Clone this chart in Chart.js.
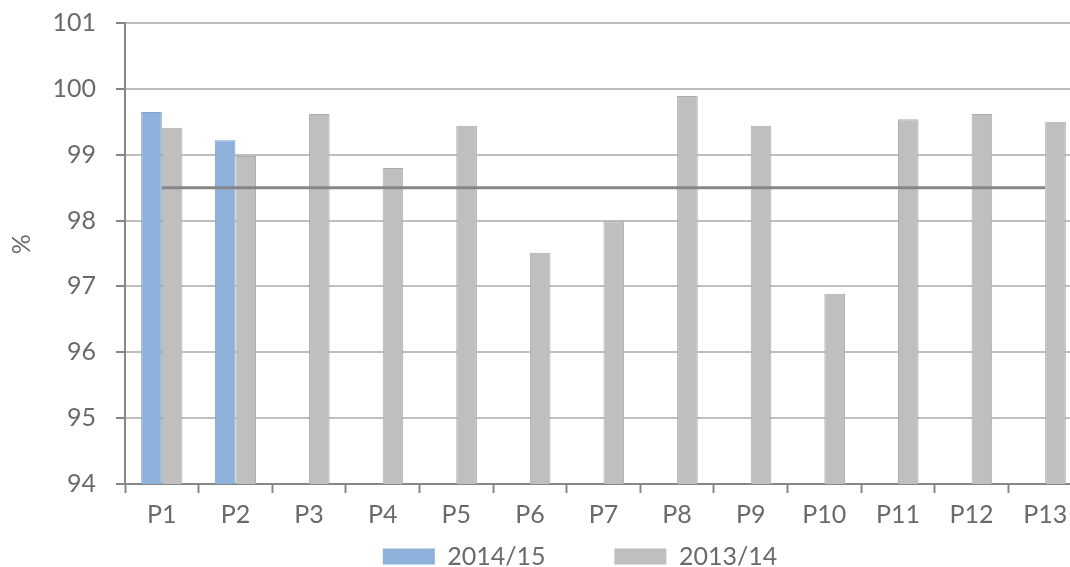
<!DOCTYPE html>
<html>
<head>
<meta charset="utf-8">
<script src="https://cdn.jsdelivr.net/npm/chart.js@4.4.1/dist/chart.umd.min.js"></script>
<style>
  html, body { margin: 0; padding: 0; background: #ffffff; overflow: hidden; }
  #wrap { width: 1070px; height: 567px; overflow: hidden; }
  canvas { display: block; }
</style>
</head>
<body>
<div id="wrap"><canvas id="chart" width="1160" height="567"></canvas></div>
<script>
// Reporting periods
const periods = ['P1', 'P2', 'P3', 'P4', 'P5', 'P6', 'P7', 'P8', 'P9', 'P10', 'P11', 'P12', 'P13'];

// Percentage per period, current and previous year
const values2014_15 = [99.65, 99.22, null, null, null, null, null, null, null, null, null, null, null];
const values2013_14 = [99.41, 98.98, 99.62, 98.80, 99.44, 97.51, 97.99, 99.89, 99.44, 96.89, 99.54, 99.62, 99.50];

// Target level drawn across all periods
const targetLevel = 98.5;
const targetLine = periods.map(() => targetLevel);

// Axis range
const yMin = 94;
const yMax = 101;
const yStep = 1;

const seriesNames = ['2014/15', '2013/14'];

const FONT = 'Lato, "DejaVu Sans", sans-serif';
const TEXT = '#6a6a6a';
const AXIS = '#878787';
const GRID = '#bfbfbf';

Chart.defaults.font.family = FONT;
Chart.defaults.color = TEXT;

// Centre the legend across the whole canvas rather than the padded plot width
const legendSpan = {
  id: 'legendSpan',
  afterLayout(chart) {
    const lg = chart.legend;
    if (!lg) return;
    lg.left = 0;
    lg.right = chart.width;
    lg.width = chart.width;
  }
};

new Chart(document.getElementById('chart'), {
  type: 'bar',
  plugins: [legendSpan],
  data: {
    labels: periods,
    datasets: [
      {
        type: 'line',
        label: 'Target',
        data: targetLine,
        borderColor: '#868686',
        borderWidth: 3,
        pointRadius: 0,
        fill: false,
        order: 0
      },
      {
        label: seriesNames[0],
        data: values2014_15,
        backgroundColor: '#8eb1dc',
        borderColor: '#7f9fca',
        borderWidth: 1,
        order: 1
      },
      {
        label: seriesNames[1],
        data: values2013_14,
        backgroundColor: '#bfbfbf',
        borderColor: '#aaaaaa',
        borderWidth: 1,
        order: 1
      }
    ]
  },
  options: {
    responsive: false,
    animation: false,
    categoryPercentage: 0.56,
    barPercentage: 1.0,
    layout: { padding: { left: 4, right: 78, top: 23, bottom: -12 } },
    plugins: {
      tooltip: { enabled: false },
      legend: {
        position: 'bottom',
        labels: {
          filter: (item) => item.datasetIndex !== 0,
          generateLabels: (chart) => {
            const items = Chart.defaults.plugins.legend.labels.generateLabels(chart);
            return items.map((it) => {
              if (it.text === seriesNames[0]) it.text = it.text + '\u2003\u2003\u2002\u2009\u2002\u2009';
              it.lineWidth = 0;
              return it;
            });
          },
          boxWidth: 52,
          boxHeight: 16,
          padding: 0,
          color: TEXT,
          font: { size: 25 }
        }
      }
    },
    scales: {
      x: {
        offset: true,
        grid: {
          offset: true,
          drawOnChartArea: false,
          drawTicks: true,
          tickLength: 9,
          tickColor: AXIS,
          tickWidth: 2
        },
        border: { display: true, color: AXIS, width: 2 },
        ticks: { padding: 7, color: TEXT, font: { size: 25 }, maxRotation: 0, autoSkip: false },
        afterFit: (scale) => { scale.height = 60; }
      },
      y: {
        min: yMin,
        max: yMax,
        grid: {
          color: GRID,
          lineWidth: 2,
          tickLength: 9,
          tickColor: AXIS,
          tickWidth: 2
        },
        border: { display: true, color: AXIS, width: 2 },
        ticks: { stepSize: yStep, padding: 20, color: TEXT, font: { size: 25 } },
        title: { display: true, text: '\u2003%', color: TEXT, font: { size: 25 }, padding: { top: 3, bottom: 0 } },
        afterFit: (scale) => {
          scale.width = 121;
          scale.paddingTop = 0;
          scale.paddingBottom = 0;
        }
      }
    }
  }
});
</script>
</body>
</html>
